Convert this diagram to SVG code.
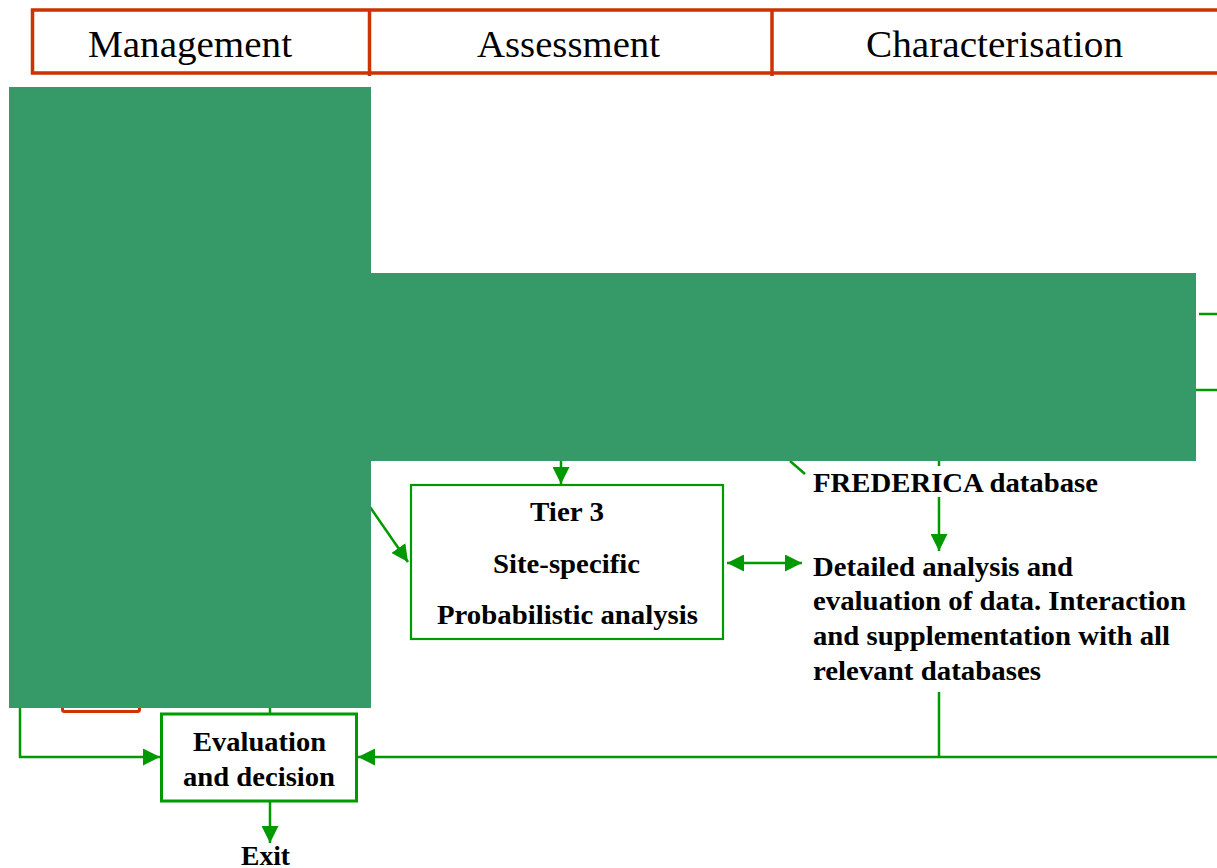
<svg xmlns="http://www.w3.org/2000/svg" width="1217" height="868" viewBox="0 0 1217 868">
  <style>
    .hdr { fill: none; stroke: #cc3300; stroke-width: 3.5; }
    .hdr-text { font-family: "Liberation Serif", "Times New Roman", serif; font-size: 38px; fill: #000; }
    .lbl { font-family: "Liberation Serif", "Times New Roman", serif; font-size: 27px; font-weight: bold; fill: #000; }
    .box { fill: #fff; stroke: #009900; }
    .conn { fill: none; stroke: #009900; stroke-width: 2.5; }
    .cover { fill: #369a68; }
  </style>
  <defs>
    <marker id="arrow" viewBox="0 0 17 17" refX="17" refY="8.5" markerWidth="17" markerHeight="17" markerUnits="userSpaceOnUse" orient="auto-start-reverse">
      <path d="M0,0 L17,8.5 L0,17 z" fill="#009900"/>
    </marker>
  </defs>

  <rect x="0" y="0" width="1217" height="868" fill="#fff"/>

  <!-- column header band -->
  <g id="header">
    <path class="hdr" d="M1217,10 H32.5 V73 H1217"/>
    <line class="hdr" x1="369.5" y1="10" x2="369.5" y2="76"/>
    <line class="hdr" x1="772" y1="10" x2="772" y2="76"/>
    <text class="hdr-text" x="88" y="57" textLength="204" lengthAdjust="spacingAndGlyphs">Management</text>
    <text class="hdr-text" x="477" y="57" textLength="183" lengthAdjust="spacingAndGlyphs">Assessment</text>
    <text class="hdr-text" x="866" y="57" textLength="257" lengthAdjust="spacingAndGlyphs">Characterisation</text>
  </g>

  <!-- small red box, lower part -->
  <g id="red-box">
    <rect x="62.5" y="650" width="77" height="61.5" rx="2" fill="#fff" stroke="#cc3300" stroke-width="3"/>
  </g>

  <!-- Tier 3 -->
  <g id="tier3">
    <rect class="box" x="411" y="485" width="312" height="154" stroke-width="2.2"/>
    <text class="lbl" x="567" y="521" text-anchor="middle" textLength="74" lengthAdjust="spacingAndGlyphs">Tier 3</text>
    <text class="lbl" x="566.5" y="573" text-anchor="middle" textLength="147" lengthAdjust="spacingAndGlyphs">Site-specific</text>
    <text class="lbl" x="567.5" y="624" text-anchor="middle" textLength="261" lengthAdjust="spacingAndGlyphs">Probabilistic analysis</text>
  </g>

  <!-- FREDERICA database -->
  <g id="frederica">
    <text class="lbl" x="813" y="492" textLength="285" lengthAdjust="spacingAndGlyphs">FREDERICA database</text>
  </g>

  <!-- detailed analysis -->
  <g id="detailed-analysis">
    <text class="lbl" x="813" y="576" textLength="260" lengthAdjust="spacingAndGlyphs">Detailed analysis and</text>
    <text class="lbl" x="813" y="610" textLength="373" lengthAdjust="spacingAndGlyphs">evaluation of data. Interaction</text>
    <text class="lbl" x="813" y="645" textLength="357" lengthAdjust="spacingAndGlyphs">and supplementation with all</text>
    <text class="lbl" x="813" y="680" textLength="228" lengthAdjust="spacingAndGlyphs">relevant databases</text>
  </g>

  <!-- evaluation and decision -->
  <g id="evaluation">
    <rect class="box" x="161.5" y="714" width="195" height="87" stroke-width="3"/>
    <text class="lbl" x="259.5" y="751" text-anchor="middle" textLength="133" lengthAdjust="spacingAndGlyphs">Evaluation</text>
    <text class="lbl" x="259" y="786" text-anchor="middle" textLength="152" lengthAdjust="spacingAndGlyphs">and decision</text>
  </g>

  <!-- exit -->
  <g id="exit">
    <text class="lbl" x="265.5" y="865" text-anchor="middle" textLength="49" lengthAdjust="spacingAndGlyphs">Exit</text>
  </g>

  <!-- connectors -->
  <g id="connectors">
    <path class="conn" d="M20,707 V757 H160" marker-end="url(#arrow)"/>
    <path class="conn" d="M1217,757 H358" marker-end="url(#arrow)"/>
    <path class="conn" d="M939,692 V757"/>
    <path class="conn" d="M270,802 V843" marker-end="url(#arrow)"/>
    <path class="conn" d="M270,707 V713"/>
    <path class="conn" d="M561,461 V484" marker-end="url(#arrow)"/>
    <path class="conn" d="M370,507 L408,562" marker-end="url(#arrow)"/>
    <path class="conn" d="M727,563 H802" marker-start="url(#arrow)" marker-end="url(#arrow)"/>
    <path class="conn" d="M939,461 V466"/>
    <path class="conn" d="M939,497 V551" marker-end="url(#arrow)"/>
    <path class="conn" d="M790,461 L805,474"/>
    <path class="conn" d="M1199,314 H1217"/>
    <path class="conn" d="M1196,390 H1217"/>
  </g>

  <!-- solid panels over the upper part -->
  <g id="panels">
    <rect class="cover" x="9" y="87" width="362" height="621"/>
    <rect class="cover" x="371" y="273" width="825" height="188"/>
  </g>
</svg>
